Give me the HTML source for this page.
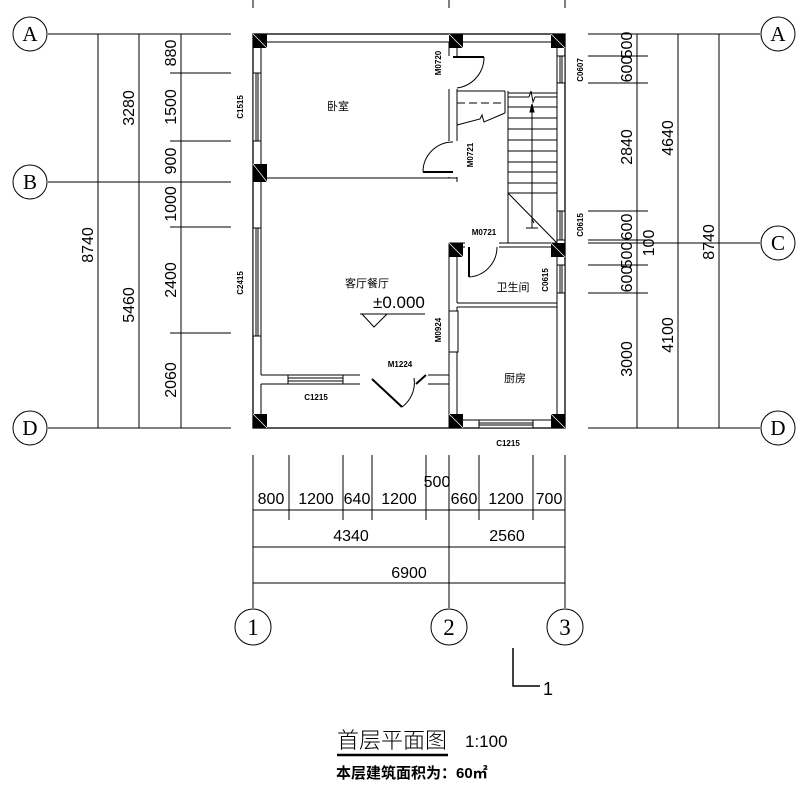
<!DOCTYPE html>
<html><head><meta charset="utf-8"><style>
html,body{margin:0;padding:0;background:#fff;}
svg{display:block}
text{font-family:"Liberation Sans","Noto Sans CJK SC",sans-serif;fill:#000}
.d{font-size:16px}
.s{font-size:8px;font-weight:bold}
.r{font-size:11px}
.ser{font-family:"Liberation Serif",serif !important;}
</style></head><body>
<svg width="807" height="792" viewBox="0 0 807 792" xmlns="http://www.w3.org/2000/svg">
<g stroke="#000" stroke-width="1" fill="none">
<line x1="253" y1="0" x2="253" y2="8"/><line x1="449" y1="0" x2="449" y2="8"/><line x1="565" y1="0" x2="565" y2="8"/>
<line x1="48" y1="34" x2="231" y2="34"/><line x1="48" y1="182" x2="231" y2="182"/><line x1="48" y1="428" x2="231" y2="428"/>
<line x1="98" y1="34" x2="98" y2="428"/><line x1="139" y1="34" x2="139" y2="428"/><line x1="181" y1="34" x2="181" y2="428"/>
<line x1="170" y1="73" x2="231" y2="73"/><line x1="170" y1="141" x2="231" y2="141"/><line x1="170" y1="227" x2="231" y2="227"/><line x1="170" y1="333" x2="231" y2="333"/>
<circle cx="30" cy="34" r="17"/><circle cx="30" cy="182" r="17"/><circle cx="30" cy="428" r="17"/>
<line x1="588" y1="34" x2="760" y2="34"/><line x1="588" y1="243" x2="760" y2="243"/><line x1="588" y1="428" x2="760" y2="428"/>
<line x1="637" y1="34" x2="637" y2="428"/><line x1="678" y1="34" x2="678" y2="428"/><line x1="719" y1="34" x2="719" y2="428"/>
<line x1="588" y1="56" x2="648" y2="56"/><line x1="588" y1="83" x2="648" y2="83"/><line x1="588" y1="211" x2="648" y2="211"/><line x1="588" y1="240" x2="648" y2="240"/><line x1="588" y1="265" x2="648" y2="265"/><line x1="588" y1="293" x2="648" y2="293"/>
<circle cx="778" cy="34" r="17"/><circle cx="778" cy="243" r="17"/><circle cx="778" cy="428" r="17"/>
<line x1="253" y1="455" x2="253" y2="608"/><line x1="449" y1="455" x2="449" y2="608"/><line x1="565" y1="455" x2="565" y2="608"/>
<line x1="289" y1="455" x2="289" y2="520"/><line x1="343" y1="455" x2="343" y2="520"/><line x1="372" y1="455" x2="372" y2="520"/><line x1="426" y1="455" x2="426" y2="520"/><line x1="479" y1="455" x2="479" y2="520"/><line x1="533" y1="455" x2="533" y2="520"/>
<line x1="253" y1="510" x2="565" y2="510"/><line x1="253" y1="547" x2="565" y2="547"/><line x1="253" y1="583" x2="565" y2="583"/>
<circle cx="253" cy="627" r="18"/><circle cx="449" cy="627" r="18"/><circle cx="565" cy="627" r="18"/>
<polyline points="513,648 513,686 540,686" stroke-width="1.5"/>
<rect x="253" y="34" width="312" height="394" stroke-width="1.3"/>
<line x1="261" y1="42" x2="449" y2="42"/><line x1="457" y1="42" x2="557" y2="42"/>
<line x1="261" y1="42" x2="261" y2="375"/><line x1="557" y1="42" x2="557" y2="420"/>
<line x1="261" y1="178" x2="457" y2="178"/>
<line x1="449" y1="42" x2="449" y2="178"/><line x1="457" y1="42" x2="457" y2="182"/>
<line x1="261" y1="375" x2="449" y2="375"/><line x1="261" y1="384" x2="449" y2="384"/><line x1="261" y1="384" x2="261" y2="420"/>
<line x1="449" y1="243" x2="449" y2="428"/><line x1="457" y1="243" x2="457" y2="303"/><line x1="457" y1="307" x2="457" y2="420"/>
<line x1="457" y1="303" x2="557" y2="303"/><line x1="457" y1="307" x2="557" y2="307"/>
<line x1="457" y1="420" x2="557" y2="420"/>
<line x1="449" y1="243" x2="557" y2="243"/><line x1="457" y1="247" x2="557" y2="247"/>
<rect x="253" y="73" width="8" height="68" fill="#fff"/><line x1="256" y1="73" x2="256" y2="141"/><line x1="258" y1="73" x2="258" y2="141"/>
<rect x="253" y="228" width="8" height="108" fill="#fff"/><line x1="256" y1="228" x2="256" y2="336"/><line x1="258" y1="228" x2="258" y2="336"/>
<rect x="557" y="56" width="8" height="27" fill="#fff"/><line x1="560" y1="56" x2="560" y2="83"/><line x1="562" y1="56" x2="562" y2="83"/>
<rect x="557" y="211" width="8" height="29" fill="#fff"/><line x1="560" y1="211" x2="560" y2="240"/><line x1="562" y1="211" x2="562" y2="240"/>
<rect x="557" y="265" width="8" height="28" fill="#fff"/><line x1="560" y1="265" x2="560" y2="293"/><line x1="562" y1="265" x2="562" y2="293"/>
<rect x="288" y="375" width="55" height="9" fill="#fff"/><line x1="288" y1="378" x2="343" y2="378"/><line x1="288" y1="381" x2="343" y2="381"/>
<rect x="479" y="420" width="54" height="8" fill="#fff"/><line x1="479" y1="423" x2="533" y2="423"/><line x1="479" y1="425" x2="533" y2="425"/>
<rect x="448" y="56" width="10" height="33" fill="#fff" stroke="none"/>
<line x1="453" y1="57" x2="484" y2="57" stroke-width="2"/><path d="M484,57 A31,31 0 0 1 457,88"/>
<rect x="448" y="141" width="10" height="36" fill="#fff" stroke="none"/>
<line x1="423" y1="172" x2="453" y2="172" stroke-width="2"/><path d="M423,172 A30,30 0 0 1 453,142"/>
<rect x="360" y="374" width="68" height="11" fill="#fff" stroke="none"/>
<line x1="372" y1="379" x2="402" y2="407" stroke-width="2"/><path d="M402,407 A30,30 0 0 0 414,378"/>
<line x1="416" y1="384" x2="426" y2="375" stroke-width="2"/>
<rect x="465" y="242" width="34" height="6" fill="#fff" stroke="none"/>
<line x1="469" y1="247" x2="469" y2="277" stroke-width="2"/><path d="M469,277 A30,30 0 0 0 497,247"/>
<rect x="449" y="311" width="9" height="41" fill="#fff"/>
<line x1="508" y1="91" x2="508" y2="243"/>
<line x1="457" y1="91" x2="505" y2="91"/><line x1="505" y1="91" x2="505" y2="113"/>
<line x1="457" y1="103" x2="505" y2="103" stroke-dasharray="8,4"/>
<polyline points="457,125 480,119 482,115 484,122 505,113"/>
<line x1="508" y1="93" x2="557" y2="93"/><line x1="508" y1="97" x2="529" y2="97"/><polyline points="529,97 531,91 533,102 535,97 557,97"/>
<line x1="508" y1="107" x2="557" y2="107"/><line x1="508" y1="118" x2="557" y2="118"/><line x1="508" y1="129" x2="557" y2="129"/><line x1="508" y1="140" x2="557" y2="140"/><line x1="508" y1="151" x2="557" y2="151"/><line x1="508" y1="162" x2="557" y2="162"/><line x1="508" y1="172" x2="557" y2="172"/><line x1="508" y1="183" x2="557" y2="183"/><line x1="508" y1="193" x2="557" y2="193"/>
<line x1="508" y1="193" x2="557" y2="243"/>
<line x1="532" y1="108" x2="532" y2="228"/><polygon points="532,104 530,112 534,112" fill="#000"/>
<line x1="532" y1="219" x2="534" y2="223"/><line x1="526" y1="228" x2="538" y2="228"/>
<line x1="360" y1="314" x2="425" y2="314"/><polyline points="362,314 374,327 387,314"/>
</g>
<g fill="#000">
<rect x="253" y="34" width="14" height="14"/><rect x="449" y="34" width="14" height="14"/><rect x="551" y="34" width="14" height="14"/>
<rect x="253" y="164" width="14" height="18"/><rect x="449" y="243" width="14" height="14"/><rect x="551" y="243" width="14" height="14"/>
<rect x="253" y="414" width="14" height="14"/><rect x="449" y="414" width="14" height="14"/><rect x="551" y="414" width="14" height="14"/>
</g>
<g stroke="#fff" stroke-width="0.7">
<line x1="253" y1="34" x2="267" y2="48"/><line x1="449" y1="34" x2="463" y2="48"/><line x1="551" y1="34" x2="565" y2="48"/>
<line x1="253" y1="164" x2="267" y2="182"/><line x1="449" y1="243" x2="463" y2="257"/><line x1="551" y1="243" x2="565" y2="257"/>
<line x1="253" y1="414" x2="267" y2="428"/><line x1="449" y1="414" x2="463" y2="428"/><line x1="551" y1="414" x2="565" y2="428"/>
</g>
<g font-size="21" text-anchor="middle">
<text class="ser" x="30" y="41">A</text>
<text class="ser" x="30" y="189">B</text>
<text class="ser" x="30" y="435">D</text>
<text class="ser" x="778" y="41">A</text>
<text class="ser" x="778" y="250">C</text>
<text class="ser" x="778" y="435">D</text>
<text class="ser" x="253" y="635" font-size="23">1</text>
<text class="ser" x="449" y="635" font-size="23">2</text>
<text class="ser" x="565" y="635" font-size="23">3</text>
</g>
<g class="d" text-anchor="middle">
<text transform="translate(93,245) rotate(-90)">8740</text>
<text transform="translate(134,108) rotate(-90)">3280</text>
<text transform="translate(134,305) rotate(-90)">5460</text>
<text transform="translate(176,53) rotate(-90)">880</text>
<text transform="translate(176,107) rotate(-90)">1500</text>
<text transform="translate(176,161) rotate(-90)">900</text>
<text transform="translate(176,204) rotate(-90)">1000</text>
<text transform="translate(176,280) rotate(-90)">2400</text>
<text transform="translate(176,380) rotate(-90)">2060</text>
<text transform="translate(632,45) rotate(-90)">500</text>
<text transform="translate(632,69) rotate(-90)">600</text>
<text transform="translate(632,147) rotate(-90)">2840</text>
<text transform="translate(632,227) rotate(-90)">600</text>
<text transform="translate(654,243) rotate(-90)">100</text>
<text transform="translate(632,255) rotate(-90)">500</text>
<text transform="translate(632,279) rotate(-90)">600</text>
<text transform="translate(632,359) rotate(-90)">3000</text>
<text transform="translate(673,138) rotate(-90)">4640</text>
<text transform="translate(673,335) rotate(-90)">4100</text>
<text transform="translate(714,242) rotate(-90)">8740</text>
<text x="271" y="504">800</text><text x="316" y="504">1200</text><text x="357" y="504">640</text><text x="399" y="504">1200</text>
<text x="437" y="487">500</text><text x="464" y="504">660</text><text x="506" y="504">1200</text><text x="549" y="504">700</text>
<text x="351" y="541">4340</text><text x="507" y="541">2560</text><text x="409" y="578">6900</text>
</g>
<text x="543" y="695" font-size="18">1</text>
<text x="337" y="748" font-size="22" textLength="110" lengthAdjust="spacingAndGlyphs" style="font-family:'Noto Sans CJK SC',sans-serif;font-weight:300">首层平面图</text>
<line x1="337" y1="755" x2="448" y2="755" stroke="#000" stroke-width="2.5"/>
<text x="465" y="747" font-size="17">1:100</text>
<text x="336" y="778" font-size="15" font-weight="bold">本层建筑面积为：60㎡</text>
<g class="r" text-anchor="middle">
<text x="338" y="110">卧室</text><text x="367" y="287">客厅餐厅</text><text x="513" y="291">卫生间</text><text x="515" y="382">厨房</text>
</g>
<text x="373" y="308" font-size="17">±0.000</text>
<g class="s" text-anchor="middle">
<text transform="translate(441,63) rotate(-90)">M0720</text>
<text transform="translate(473,155) rotate(-90)">M0721</text>
<text x="484" y="235">M0721</text>
<text transform="translate(548,280) rotate(-90)">C0615</text>
<text transform="translate(441,330) rotate(-90)">M0924</text>
<text x="400" y="367">M1224</text>
<text x="316" y="400">C1215</text>
<text x="508" y="446">C1215</text>
<text transform="translate(243,107) rotate(-90)">C1515</text>
<text transform="translate(243,283) rotate(-90)">C2415</text>
<text transform="translate(583,70) rotate(-90)">C0607</text>
<text transform="translate(583,225) rotate(-90)">C0615</text>
</g>
</svg>
</body></html>
